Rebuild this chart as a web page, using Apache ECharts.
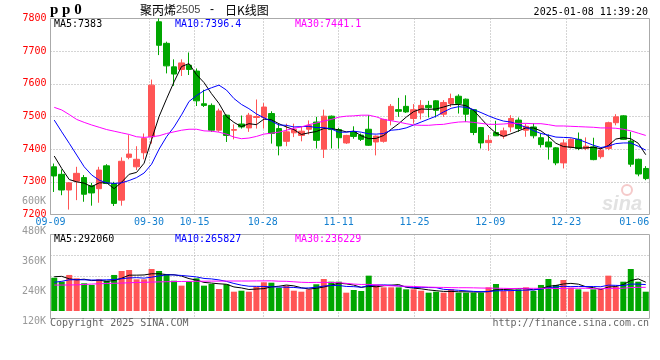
<!DOCTYPE html>
<html><head><meta charset="utf-8">
<script src="https://cdn.jsdelivr.net/npm/echarts@6/dist/echarts.min.js"></script>
<style>html,body{margin:0;padding:0;background:#fff}#c{width:660px;height:360px}</style>
</head><body><div id="c"></div>
<script>
const dates = ['09-09','09-10','09-11','09-12','09-13','09-18','09-19','09-20','09-23','09-24','09-25','09-26','09-27','09-30',
'10-08','10-09','10-10','10-11','10-14','10-15','10-16','10-17','10-18','10-21','10-22','10-23','10-24','10-25','10-28','10-29','10-30','10-31',
'11-01','11-04','11-05','11-06','11-07','11-08','11-11','11-12','11-13','11-14','11-15','11-18','11-19','11-20','11-21','11-22','11-25','11-26','11-27','11-28','11-29',
'12-02','12-03','12-04','12-05','12-06','12-09','12-10','12-11','12-12','12-13','12-16','12-17','12-18','12-19','12-20','12-23','12-24','12-25','12-26','12-27','12-30','12-31',
'01-02','01-03','01-06','01-07','01-08'];

const openP = [7346,7323,7275,7302,7313,7288,7279,7349,7295,7244,
 7375,7346,7389,7438,7790,7724,7652,7644,7657,7639,
 7539,7534,7458,7504,7458,7477,7465,7497,7497,7509,
 7463,7424,7450,7442,7461,7483,7400,7501,7460,7419,
 7453,7443,7461,7422,7424,7489,7521,7531,7494,7511,
 7534,7548,7507,7540,7562,7553,7521,7466,7420,7451,
 7440,7468,7489,7458,7468,7435,7422,7404,7358,7405,
 7430,7402,7407,7377,7402,7481,7502,7425,7369,7341];
const closeP = [7318,7275,7297,7326,7262,7266,7336,7295,7234,7363,
 7385,7369,7433,7596,7718,7655,7630,7664,7644,7548,
 7534,7458,7517,7442,7460,7468,7504,7500,7529,7448,
 7410,7453,7461,7455,7473,7427,7501,7460,7435,7442,
 7439,7430,7412,7440,7491,7531,7516,7514,7521,7534,
 7527,7519,7543,7555,7540,7507,7451,7419,7427,7441,
 7456,7494,7463,7470,7441,7414,7407,7358,7419,7430,
 7402,7409,7368,7397,7481,7499,7430,7354,7324,7310];
const lowP = [7269,7259,7215,7244,7239,7227,7236,7293,7226,7227,
 7369,7336,7369,7417,7688,7632,7594,7624,7627,7532,
 7529,7453,7453,7422,7430,7463,7453,7463,7463,7417,
 7381,7409,7437,7424,7445,7402,7373,7402,7402,7416,
 7432,7425,7410,7381,7420,7473,7499,7511,7478,7491,
 7497,7497,7499,7529,7509,7483,7443,7402,7395,7440,
 7432,7453,7453,7438,7433,7405,7368,7351,7341,7402,
 7397,7397,7366,7371,7397,7473,7428,7346,7317,7305];
const highP = [7356,7338,7299,7346,7321,7297,7346,7354,7300,7375,
 7443,7409,7448,7613,7800,7729,7675,7675,7696,7647,
 7582,7540,7524,7506,7476,7503,7511,7552,7541,7516,
 7478,7478,7478,7468,7488,7499,7521,7503,7465,7444,
 7470,7448,7504,7442,7493,7538,7557,7565,7538,7550,
 7548,7550,7550,7570,7568,7555,7523,7468,7443,7487,
 7466,7504,7497,7477,7479,7448,7445,7406,7430,7433,
 7451,7436,7435,7404,7484,7507,7504,7453,7371,7348];

const ma5 = [7379,7341,7307,7300,7296,7285,7297,7297,7279,7299,
 7323,7329,7357,7429,7500,7554,7606,7653,7662,7628,
 7604,7570,7540,7500,7482,7469,7478,7475,7492,7490,
 7478,7468,7460,7445,7450,7454,7463,7463,7459,7453,
 7455,7441,7432,7433,7442,7461,7478,7498,7515,7523,
 7522,7523,7529,7536,7537,7533,7519,7494,7469,7449,
 7439,7447,7456,7465,7465,7456,7439,7418,7408,7406,
 7403,7404,7406,7401,7411,7431,7435,7432,7418,7383];
const ma10 = [7489,7453,7418,7382,7346,7321,7305,7297,7295,7297,
 7304,7313,7327,7354,7400,7438,7468,7505,7546,7564,
 7579,7588,7596,7581,7555,7537,7524,7508,7496,7486,
 7474,7473,7468,7469,7470,7466,7466,7462,7452,7452,
 7455,7452,7447,7446,7448,7458,7460,7465,7474,7483,
 7492,7501,7514,7525,7530,7528,7521,7512,7502,7493,
 7486,7483,7475,7467,7457,7448,7443,7437,7436,7435,
 7430,7421,7412,7405,7409,7417,7419,7419,7409,7397];
const ma30 = [7528,7520,7506,7491,7482,7474,7467,7460,7455,7450,
 7445,7438,7436,7438,7441,7448,7453,7458,7461,7461,
 7456,7455,7452,7446,7437,7432,7434,7439,7446,7449,
 7452,7458,7464,7468,7475,7480,7486,7491,7498,7501,
 7502,7504,7504,7499,7491,7487,7483,7478,7474,7473,
 7473,7475,7476,7480,7483,7484,7482,7479,7476,7476,
 7477,7479,7479,7479,7478,7478,7475,7471,7471,7470,
 7469,7468,7467,7465,7465,7464,7461,7456,7449,7442];

const volumeK = [336,296,364,330,280,263,320,306,364,404,
 414,320,320,424,404,374,306,256,296,330,
 256,273,222,270,195,205,195,245,290,286,
 235,256,205,195,219,270,323,296,296,185,
 212,202,357,263,239,239,239,219,219,205,
 185,195,185,219,185,185,185,185,239,273,
 202,202,219,239,202,263,323,263,313,235,
 219,195,219,219,357,245,296,424,296,195];
const volMa5K = [346,350,325,315,321,307,311,300,307,331,
 362,362,364,376,376,368,366,353,327,312,
 289,282,275,270,243,233,217,222,226,244,
 250,262,254,235,222,229,242,261,281,274,
 262,238,250,244,255,260,267,240,231,224,
 213,205,198,198,194,194,192,192,196,213,
 217,220,227,227,213,225,249,258,273,279,
 271,245,236,217,242,247,267,308,324,291];
const volMa10K = [290,300,315,316,315,313,313,315,318,326,
 334,337,332,342,354,365,364,359,352,344,
 329,324,314,299,278,261,250,249,248,244,
 242,240,238,231,233,240,252,258,258,248,
 246,240,256,262,264,261,253,245,237,239,
 237,236,219,214,209,204,198,195,197,204,
 205,206,209,211,213,221,235,243,250,246,
 248,247,247,245,261,259,256,272,271,267];
const volMa30K = [262,262,263,264,268,272,275,278,280,282,
 285,288,290,292,294,296,297,298,299,300,
 301,302,302,303,303,303,303,304,304,305,
 301,300,295,290,288,289,289,288,286,279,
 272,268,269,264,258,254,252,250,248,244,
 241,239,238,236,235,235,234,232,231,230,
 229,227,228,229,229,229,229,227,228,230,
 230,230,225,224,228,228,230,237,239,239];

const dateTickLabels = ['09-09','09-30','10-15','10-28','11-11','11-25','12-09','12-23','01-06'];
const dateGridLines = ['09-30','10-15','10-28','11-11','11-25','12-09','12-23'];
const priceAxis = {min:7200, max:7800, step:100};
const volLabelAxisK = {min:0, max:600, step:120};
const priceLegend = ['MA5:7383','MA10:7396.4','MA30:7441.1'];
const volLegend = ['MA5:292060','MA10:265827','MA30:236229'];
const titleParts = ['聚丙烯','2505','-','日K线图'];
const symbolText = 'p p 0';
const stampText = '2025-01-08 11:39:20';
const footLeft = 'Copyright 2025 SINA.COM';
const footRight = 'http://finance.sina.com.cn';

const UP = '#ff5555', DOWN = '#00a600';
const MA_COLORS = ['#000000','#0000ff','#ff00ff'];
const MONO = "'DejaVu Sans Mono', monospace";
const dotted = {color:'#aaaaaa', type:[1,2], width:1};
const hidden = {axisLine:{show:false},axisTick:{show:false},axisLabel:{show:false},splitLine:{show:false}};

const chart = echarts.init(document.getElementById('c'));

function maLine(name, data, color, xi, yi){
  return {type:'line', name, data, xAxisIndex:xi, yAxisIndex:yi, symbol:'none', showSymbol:false,
    lineStyle:{color, width:1}, itemStyle:{color}, z:4, silent:true};
}
function txt(text, x, y, fill, font, align){
  return {type:'text', x, y, silent:true, z:10,
    style:{text, fill, font, textAlign:align||'left', align:align||'left', textVerticalAlign:'middle', verticalAlign:'middle'}};
}

const option = {
  animation:false,
  grid:[
    {left:50.5, top:18.5, width:599, height:196, show:true, borderColor:'#aaaaaa', borderWidth:1},
    {left:50.5, top:234.5, width:599, height:84, show:true, borderColor:'#aaaaaa', borderWidth:1},
    {left:50, top:201, width:599, height:150, show:false}
  ],
  xAxis:[
    Object.assign({type:'category', gridIndex:0, data:dates, boundaryGap:true, position:'bottom'}, hidden),
    {type:'category', gridIndex:0, data:dates, boundaryGap:false, position:'bottom',
      axisLine:{show:false}, axisTick:{show:false},
      axisLabel:{interval:(i,v)=>dateTickLabels.includes(v), color:'#1580d0', fontFamily:MONO, fontSize:10, margin:3},
      splitLine:{show:true, interval:(i,v)=>dateGridLines.includes(v), lineStyle:dotted}},
    Object.assign({type:'category', gridIndex:1, data:dates, boundaryGap:true, position:'bottom'}, hidden),
    {type:'category', gridIndex:1, data:dates, boundaryGap:false, position:'bottom',
      axisLine:{show:false}, axisTick:{show:false}, axisLabel:{show:false},
      splitLine:{show:true, interval:(i,v)=>dateGridLines.includes(v), lineStyle:dotted}},
    Object.assign({type:'category', gridIndex:2, data:dates, position:'bottom'}, hidden)
  ],
  yAxis:[
    {type:'value', gridIndex:0, position:'left', min:priceAxis.min, max:priceAxis.max, interval:priceAxis.step,
      axisLine:{show:false}, axisTick:{show:false},
      axisLabel:{color:'#ff0000', fontFamily:MONO, fontSize:10, margin:4, padding:[0,0,3,0], formatter:v=>String(v)},
      splitLine:{show:true, lineStyle:dotted}},
    {type:'value', gridIndex:1, position:'left', min:-75.75, max:772.65, show:false},
    {type:'value', gridIndex:1, position:'right', min:0, max:4, interval:1,
      axisLine:{show:false}, axisTick:{show:false}, axisLabel:{show:false},
      splitLine:{show:true, lineStyle:dotted}},
    {type:'value', gridIndex:2, position:'left', min:volLabelAxisK.min, max:volLabelAxisK.max, interval:volLabelAxisK.step,
      axisLine:{show:false}, axisTick:{show:false}, splitLine:{show:false},
      axisLabel:{color:'#999999', fontFamily:MONO, fontSize:10, margin:4, showMinLabel:false,
        formatter:v=>v===0?'':v+'K'}}
  ],
  series:[
    {type:'candlestick', xAxisIndex:0, yAxisIndex:0, barWidth:6, z:3, silent:true,
      data:dates.map((d,i)=>[openP[i], closeP[i], lowP[i], highP[i]]),
      itemStyle:{color:UP, color0:DOWN, borderColor:UP, borderColor0:DOWN, borderWidth:1}},
    maLine('MA5', ma5, MA_COLORS[0], 0, 0),
    maLine('MA10', ma10, MA_COLORS[1], 0, 0),
    maLine('MA30', ma30, MA_COLORS[2], 0, 0),
    {type:'bar', xAxisIndex:2, yAxisIndex:1, barWidth:6, z:3, silent:true,
      data:volumeK.map((v,i)=>({value:v, itemStyle:{color: closeP[i]>=openP[i]?UP:DOWN}}))},
    maLine('VMA5', volMa5K, MA_COLORS[0], 2, 1),
    maLine('VMA10', volMa10K, MA_COLORS[1], 2, 1),
    maLine('VMA30', volMa30K, MA_COLORS[2], 2, 1)
  ],
  graphic:[
    {type:'text', x:602, y:204, z:0, silent:true,
      style:{text:'sina', fill:'#e2e2e2', font:"italic bold 20px 'Liberation Sans', sans-serif", textVerticalAlign:'middle', verticalAlign:'middle'}},
    {type:'circle', z:0, silent:true, shape:{cx:627, cy:190, r:5}, style:{fill:'none', stroke:'#f5caca', lineWidth:2}},
    txt(symbolText, 50, 10, '#000', "bold 15px 'Liberation Serif', serif"),
    txt(titleParts[0], 140, 10, '#000', "12px 'Noto Sans CJK SC'"),
    txt(titleParts[1], 176, 10, '#444', "11px 'Liberation Sans'"),
    txt(titleParts[2], 212, 10, '#000', "12px 'Liberation Sans'", 'center'),
    txt(titleParts[3], 225, 10, '#000', "12px 'Noto Sans CJK SC'"),
    txt(stampText, 648, 12, '#000', "10px " + MONO, 'right'),
    txt(priceLegend[0], 54, 24, MA_COLORS[0], "10px " + MONO),
    txt(priceLegend[1], 175, 24, MA_COLORS[1], "10px " + MONO),
    txt(priceLegend[2], 295, 24, MA_COLORS[2], "10px " + MONO),
    txt(volLegend[0], 54, 239, MA_COLORS[0], "10px " + MONO),
    txt(volLegend[1], 175, 239, MA_COLORS[1], "10px " + MONO),
    txt(volLegend[2], 295, 239, MA_COLORS[2], "10px " + MONO),
    txt(footLeft, 50, 323, '#666', "10px " + MONO),
    txt(footRight, 649, 323, '#666', "10px " + MONO, 'right')
  ]
};
chart.setOption(option);
</script></body></html>
